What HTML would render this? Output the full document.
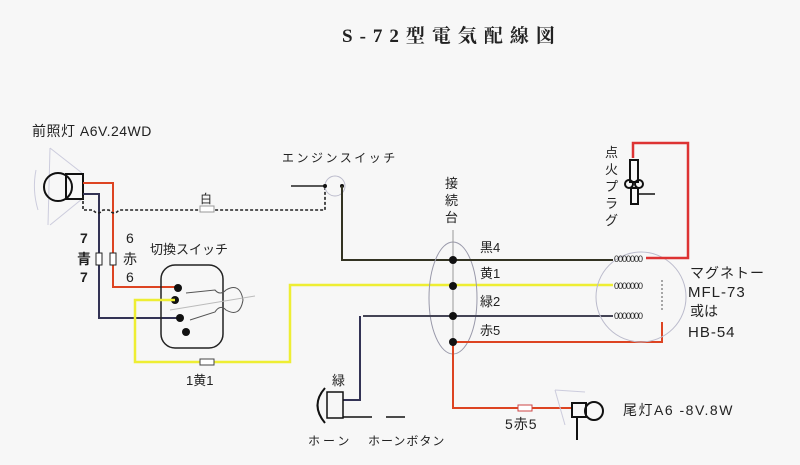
<!DOCTYPE html>
<html><head><meta charset="utf-8"><style>
html,body{margin:0;padding:0;background:#f7f7f7;}
svg{display:block}
text{font-family:"Liberation Sans","Noto Sans CJK JP",sans-serif;fill:#222;}
.t{font-family:"Liberation Serif","Noto Serif CJK SC",serif;font-weight:bold;}
</style></head><body>
<svg width="800" height="465" viewBox="0 0 800 465" xmlns="http://www.w3.org/2000/svg">
<rect width="800" height="465" fill="#f7f7f7"/>
<text class="t" x="342" y="42" font-size="19" letter-spacing="7">S-72型電気配線図</text>

<!-- headlight -->
<text x="32" y="136" font-size="14" letter-spacing="0.5">前照灯 A6V.24WD</text>
<path d="M50 148 L48 225 M36 170 Q32 190 38 210" stroke="#ccd" fill="none"/>
<path d="M50 148 L82 173 M50 225 L82 199" stroke="#ccd" fill="none"/>
<circle cx="58" cy="187" r="14" fill="none" stroke="#111" stroke-width="2"/>
<rect x="66" y="174" width="17" height="25" fill="none" stroke="#111" stroke-width="2"/>
<polyline points="83,183 113,183 113,287 178,287" fill="none" stroke="#d42" stroke-width="2"/>
<polyline points="83,194 99,194 99,318 180,318" fill="none" stroke="#335" stroke-width="2"/>
<rect x="96" y="253" width="6" height="12" fill="#fff" stroke="#222"/>
<rect x="110" y="253" width="6" height="12" fill="#fff" stroke="#222"/>
<text x="80" y="243" font-size="14" font-weight="bold">7</text>
<text x="77" y="264" font-size="14" font-weight="bold">青</text>
<text x="80" y="282" font-size="14" font-weight="bold">7</text>
<text x="126" y="243" font-size="14">6</text>
<text x="123" y="264" font-size="14">赤</text>
<text x="126" y="282" font-size="14">6</text>
<path d="M83 196 L83 210 L93 210 Q98 216 103 210 L109 210 Q114 216 119 210 L325 210 L325 187" fill="none" stroke="#222" stroke-width="1.6" stroke-dasharray="3,2"/>
<text x="200" y="203" font-size="12">白</text>
<rect x="200" y="206" width="14" height="6" fill="#fff" stroke="#999"/>
<!-- engine switch -->
<text x="282" y="162" font-size="12" letter-spacing="2.5">エンジンスイッチ</text>
<circle cx="335" cy="186" r="10" fill="none" stroke="#bbc"/>
<line x1="291" y1="186" x2="325" y2="186" stroke="#222" stroke-width="1.5"/>
<circle cx="325" cy="186" r="2" fill="#111"/><circle cx="342" cy="186" r="2" fill="#111"/>
<polyline points="342,186 342,260 455,260" fill="none" stroke="#332" stroke-width="2"/>
<!-- change switch -->
<text x="150" y="254" font-size="13">切換スイッチ</text>
<rect x="161" y="265" width="62" height="83" rx="14" fill="none" stroke="#222" stroke-width="1.5"/>
<path d="M186 293 L215 290 Q220 296 226 290 Q240 282 243 300 Q240 318 226 310 Q220 304 215 312 L190 320" fill="none" stroke="#555" stroke-width="1"/>
<line x1="170" y1="310" x2="255" y2="296" stroke="#bbb"/>
<circle cx="178" cy="288" r="4" fill="#111"/>
<circle cx="175" cy="300" r="4" fill="#111"/>
<circle cx="180" cy="318" r="4" fill="#111"/>
<circle cx="186" cy="332" r="4" fill="#111"/>
<polyline points="175,300 135,300 135,362 290,362 290,285 455,285 613,285" fill="none" stroke="#ee3" stroke-width="2.5"/>
<rect x="200" y="359" width="14" height="6" fill="#fff" stroke="#444"/>
<text x="186" y="385" font-size="13">1黄1</text>
<!-- junction -->
<text x="445" y="188" font-size="13">接</text>
<text x="445" y="205" font-size="13">続</text>
<text x="445" y="222" font-size="13">台</text>
<ellipse cx="453" cy="298" rx="24" ry="56" fill="none" stroke="#99a"/>
<line x1="453" y1="230" x2="453" y2="342" stroke="#999"/>
<line x1="363" y1="316" x2="613" y2="316" stroke="#445" stroke-width="2"/>
<polyline points="360,316 360,400 343,400" fill="none" stroke="#335" stroke-width="2"/>
<line x1="455" y1="260" x2="613" y2="260" stroke="#332" stroke-width="2"/>
<polyline points="453,342 662,342 662,322" fill="none" stroke="#d42" stroke-width="2"/>
<polyline points="453,342 453,408 572,408" fill="none" stroke="#d42" stroke-width="2"/>
<circle cx="453" cy="260" r="4" fill="#111"/>
<circle cx="453" cy="286" r="4" fill="#111"/>
<circle cx="453" cy="316" r="4" fill="#111"/>
<circle cx="453" cy="342" r="4" fill="#111"/>
<text x="480" y="252" font-size="13">黒4</text>
<text x="480" y="278" font-size="13">黄1</text>
<text x="480" y="306" font-size="13">緑2</text>
<text x="480" y="335" font-size="13">赤5</text>
<!-- magneto -->
<circle cx="641" cy="297" r="45" fill="none" stroke="#bbc"/>
<text x="614" y="262" font-size="9" letter-spacing="-1">0000000</text>
<text x="614" y="289" font-size="9" letter-spacing="-1">0000000</text>
<text x="614" y="319" font-size="9" letter-spacing="-1">0000000</text>
<line x1="662" y1="280" x2="662" y2="312" stroke="#555" stroke-dasharray="2,2"/>
<polyline points="646,258 688,258 688,143 633,143 633,158" fill="none" stroke="#d33" stroke-width="2.5"/>
<text x="690" y="278" font-size="14" letter-spacing="1">マグネトー</text>
<text x="688" y="297" font-size="15" letter-spacing="1">MFL-73</text>
<text x="690" y="316" font-size="14">或は</text>
<text x="688" y="337" font-size="15" letter-spacing="1">HB-54</text>
<!-- spark plug -->
<text x="605" y="157" font-size="13">点</text>
<text x="605" y="174" font-size="13">火</text>
<text x="605" y="191" font-size="13">プ</text>
<text x="605" y="208" font-size="13">ラ</text>
<text x="605" y="225" font-size="13">グ</text>
<rect x="630" y="160" width="8" height="22" fill="none" stroke="#111" stroke-width="2"/>
<circle cx="629" cy="184" r="4" fill="none" stroke="#111" stroke-width="2"/>
<circle cx="639" cy="184" r="4" fill="none" stroke="#111" stroke-width="2"/>
<rect x="631" y="188" width="7" height="16" fill="none" stroke="#111" stroke-width="2"/>
<line x1="638" y1="194" x2="655" y2="194" stroke="#111" stroke-width="1.5"/>
<!-- horn -->
<text x="332" y="385" font-size="13">緑</text>
<path d="M325 388 Q310 405 325 423" fill="none" stroke="#111" stroke-width="2"/>
<rect x="327" y="392" width="16" height="26" fill="none" stroke="#111" stroke-width="1.5"/>
<line x1="343" y1="417" x2="372" y2="417" stroke="#111" stroke-width="1.5"/>
<line x1="386" y1="417" x2="405" y2="417" stroke="#111" stroke-width="1.5"/>
<text x="308" y="445" font-size="12" letter-spacing="3">ホーン</text>
<text x="368" y="445" font-size="12" letter-spacing="1">ホーンボタン</text>
<!-- tail -->
<rect x="518" y="405" width="14" height="6" fill="#fff" stroke="#c44"/>
<text x="505" y="429" font-size="14" letter-spacing="1">5赤5</text>
<path d="M555 390 L585 392 M555 390 L565 425" stroke="#ccd" fill="none"/>
<rect x="572" y="403" width="14" height="14" fill="none" stroke="#111" stroke-width="2"/>
<circle cx="594" cy="411" r="9" fill="none" stroke="#111" stroke-width="2"/>
<line x1="577" y1="417" x2="577" y2="440" stroke="#111" stroke-width="2"/>
<text x="623" y="415" font-size="14" letter-spacing="1.5">尾灯A6 -8V.8W</text>
</svg>
</body></html>
